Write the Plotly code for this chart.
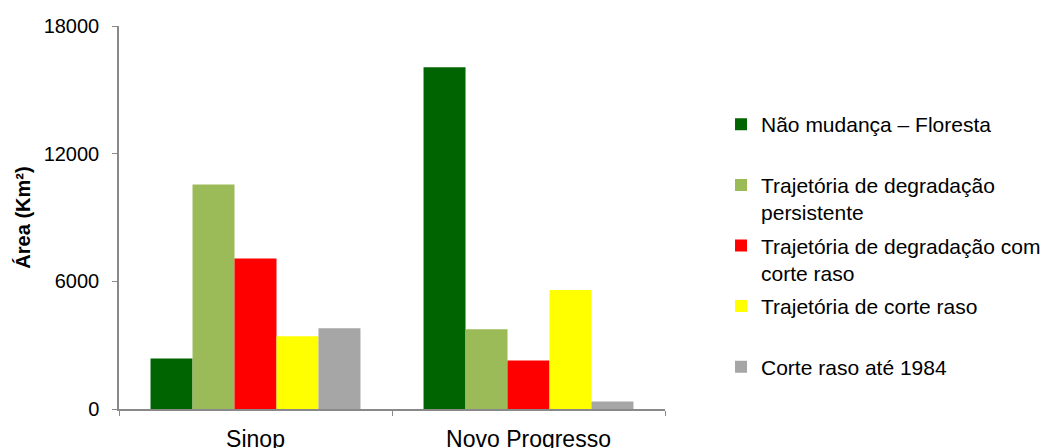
import plotly.graph_objects as go

categories = ["Sinop", "Novo Progresso"]
series_names = [
    "Não mudança – Floresta",
    "Trajetória de degradação<br>persistente",
    "Trajetória de degradação com<br>corte raso",
    "Trajetória de corte raso",
    "Corte raso até 1984",
]
nao_mudanca = [2370, 16060]
degradacao_persistente = [10550, 3750]
degradacao_corte = [7070, 2280]
corte_raso = [3420, 5590]
corte_1984 = [3790, 350]
colors = ["#006400", "#9BBB59", "#FF0000", "#FFFF00", "#A6A6A6"]
y_ticks = [0, 6000, 12000, 18000]

values = [nao_mudanca, degradacao_persistente, degradacao_corte, corte_raso, corte_1984]

fig = go.Figure()
for i, (name, vals, col) in enumerate(zip(series_names, values, colors)):
    label = name if "<br>" in name else name + "<br>\u00a0"
    fig.add_trace(go.Bar(
        x=categories, y=vals, name=label, marker=dict(color=col, line=dict(width=0)),
        legendgroup=str(i),
    ))

axis_col = "#898989"
fig.update_layout(
    width=1040, height=440,
    margin=dict(l=111, r=383, t=18, b=39, autoexpand=False),
    paper_bgcolor="white", plot_bgcolor="white",
    barmode="group", bargap=0.231, bargroupgap=0,
    font=dict(family="Liberation Sans, Arial, sans-serif", color="#000000"),
    showlegend=True,
    legend=dict(
        x=1.1026, xanchor="left", y=0.796, yanchor="top",
        font=dict(size=21, family="Liberation Sans, Arial, sans-serif"),
        valign="top", tracegroupgap=3, bgcolor="rgba(0,0,0,0)",
    ),
    xaxis=dict(
        showline=True, linecolor=axis_col, linewidth=1.5,
        ticks="outside", tickson="boundaries", ticklen=5, tickcolor=axis_col,
        tickfont=dict(size=23), showgrid=False, ticklabelstandoff=9,
        automargin=False,
    ),
    yaxis=dict(
        range=[0, 18000], tickvals=y_ticks, ticktext=[str(v) for v in y_ticks],
        showline=True, linecolor=axis_col, linewidth=1.5,
        ticks="outside", ticklen=5, tickcolor=axis_col,
        tickfont=dict(size=20), showgrid=False, zeroline=False,
        ticklabelstandoff=9, automargin=False,
        title=dict(text="<b>Área (Km²)</b>", font=dict(size=20), standoff=8),
    ),
)

fig.write_html("out.html")
